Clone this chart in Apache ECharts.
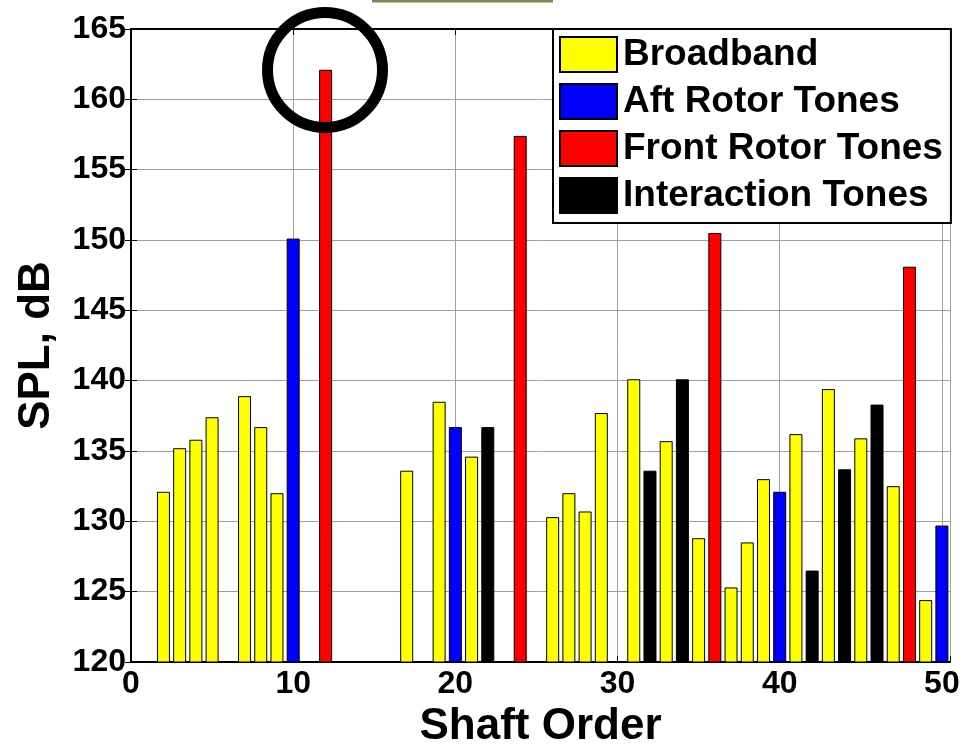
<!DOCTYPE html>
<html>
<head>
<meta charset="utf-8">
<script src="https://cdn.jsdelivr.net/npm/echarts@6/dist/echarts.min.js"></script>
<style>
html,body{margin:0;padding:0;background:#fff;}
#chart{width:963px;height:754px;}
</style>
</head>
<body>
<div id="chart"></div>
<script>
// ---- Data ----
var seriesNames = ['Broadband', 'Aft Rotor Tones', 'Front Rotor Tones', 'Interaction Tones'];

var broadbandOrders = [2, 3, 4, 5, 7, 8, 9, 17, 19, 21, 26, 27, 28, 29, 31, 33, 35, 37, 38, 39, 41, 43, 45, 47, 49];
var broadbandSPL    = [132.1, 135.2, 135.8, 137.4, 138.9, 136.7, 132.0, 133.6, 138.5, 134.6, 130.3, 132.0, 130.7, 137.7, 140.1, 135.7, 128.8, 125.3, 128.5, 133.0, 136.2, 139.4, 135.9, 132.5, 124.4];

var aftOrders = [10, 20, 40, 50];
var aftSPL    = [150.1, 136.7, 132.1, 129.7];

var frontOrders = [12, 24, 36, 48];
var frontSPL    = [162.1, 157.4, 150.5, 148.1];

var interactionOrders = [22, 32, 34, 42, 44, 46];
var interactionSPL    = [136.7, 133.6, 140.1, 126.5, 133.7, 138.3];

var xTicks = [0, 10, 20, 30, 40, 50];
var yTicks = [120, 125, 130, 135, 140, 145, 150, 155, 160, 165];

// ---- Build ----
function pairs(xs, ys) { return xs.map(function (x, i) { return [x, ys[i]]; }); }

var FONT = '"Liberation Sans", Arial, sans-serif';
var colors = ['#ffff00', '#0000ff', '#ff0000', '#000000'];
var dataSets = [
  pairs(broadbandOrders, broadbandSPL),
  pairs(aftOrders, aftSPL),
  pairs(frontOrders, frontSPL),
  pairs(interactionOrders, interactionSPL)
];

var series = seriesNames.map(function (name, i) {
  return {
    name: name,
    type: 'bar',
    data: dataSets[i],
    barWidth: 13,
    barGap: '-100%',
    itemStyle: { color: colors[i], borderColor: '#000', borderWidth: 1 },
    emphasis: { disabled: true },
    z: 3
  };
});

var chart = echarts.init(document.getElementById('chart'), null, { renderer: 'canvas' });

var tickLabel = { color: '#000', fontFamily: FONT, fontWeight: 'bold', fontSize: 32 };

chart.setOption({
  animation: false,
  backgroundColor: '#ffffff',
  grid: { left: 131, top: 29, right: 13, bottom: 86, containLabel: false },
  legend: {
    data: seriesNames,
    orient: 'vertical',
    left: 553,
    top: 29,
    icon: 'rect',
    itemWidth: 57,
    itemHeight: 35,
    itemGap: 10,
    padding: [7, 8, 9, 6],
    backgroundColor: '#ffffff',
    borderColor: '#000',
    borderWidth: 2,
    selectedMode: false,
    textStyle: { color: '#000', fontFamily: FONT, fontWeight: 'bold', fontSize: 37, padding: [0, 0, 0, 1] },
    z: 10
  },
  xAxis: [{
    type: 'value',
    min: 0,
    max: 50.5,
    interval: 10,
    name: 'Shaft Order',
    nameLocation: 'middle',
    nameGap: 43,
    nameTextStyle: { color: '#000', fontFamily: FONT, fontWeight: 'bold', fontSize: 44 },
    axisLine: { show: true, lineStyle: { color: '#000', width: 2 } },
    axisTick: { show: true, inside: true, length: 6, lineStyle: { color: '#000' } },
    axisLabel: Object.assign({
      margin: 6,
      formatter: function (v) { return xTicks.indexOf(v) >= 0 ? String(v) : ''; }
    }, tickLabel),
    splitLine: { show: true, lineStyle: { color: '#a0a0a0', width: 1 } }
  }, {
    type: 'value',
    position: 'top',
    min: 0,
    max: 50.5,
    interval: 10,
    axisLine: { show: true, lineStyle: { color: '#000', width: 2 } },
    axisTick: { show: true, inside: true, length: 6, lineStyle: { color: '#000' } },
    axisLabel: { show: false },
    splitLine: { show: false }
  }],
  yAxis: [{
    type: 'value',
    min: 120,
    max: 165,
    interval: 5,
    name: 'SPL, dB',
    nameLocation: 'middle',
    nameGap: 72,
    nameRotate: 90,
    nameTextStyle: { color: '#000', fontFamily: FONT, fontWeight: 'bold', fontSize: 44 },
    axisLine: { show: true, lineStyle: { color: '#000', width: 2 } },
    axisTick: { show: true, inside: true, length: 6, lineStyle: { color: '#000' } },
    axisLabel: Object.assign({
      margin: 5,
      formatter: function (v) { return yTicks.indexOf(v) >= 0 ? String(v) : ''; }
    }, tickLabel),
    splitLine: { show: true, lineStyle: { color: '#a0a0a0', width: 1 } }
  }, {
    type: 'value',
    position: 'right',
    min: 120,
    max: 165,
    interval: 5,
    axisLine: { show: true, lineStyle: { color: '#000', width: 2 } },
    axisTick: { show: true, inside: true, length: 6, lineStyle: { color: '#000' } },
    axisLabel: { show: false },
    splitLine: { show: false }
  }],
  series: series,
  graphic: [
    {
      type: 'rect',
      shape: { x: 372, y: 0, width: 181, height: 2.5 },
      style: { fill: '#84844f' },
      z: 20
    },
    {
      type: 'circle',
      shape: { cx: 325, cy: 70, r: 57.5 },
      style: { fill: null, stroke: '#000', lineWidth: 11 },
      z: 20
    }
  ]
});
</script>
</body>
</html>
